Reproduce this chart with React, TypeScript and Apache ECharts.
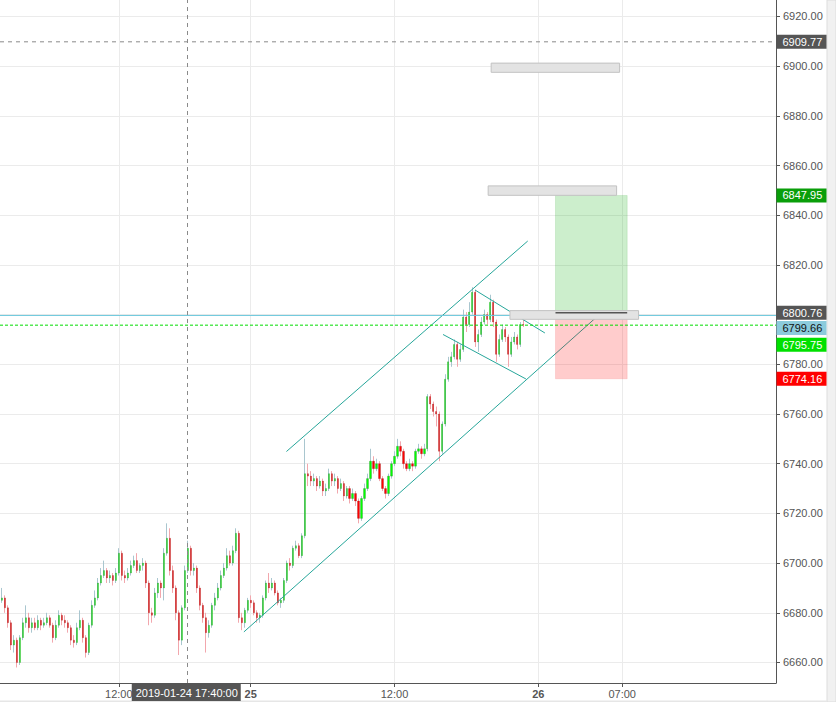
import React, { useEffect, useRef } from "react";
import * as echarts from "echarts";

// ---------- data ----------
const START_TIME = "2019-01-24 02:00"; // first 15-minute bar
const SESSION_GAP = ["2019-01-24 22:00", "2019-01-24 23:00"];
const SLOT_MINUTES = 15;
const VIEW = ["2019-01-24 02:05", "2019-01-26 19:50"];

// [open, close, low, high] per 15-minute bar
const candleOHLC: number[][] = [
  [6684, 6685, 6683, 6689], [6685, 6686, 6684, 6690], [6686, 6682, 6680, 6687], [6682, 6676, 6674, 6683],
  [6676, 6667, 6665, 6677], [6667, 6669, 6664, 6671], [6669, 6660, 6658, 6670], [6660, 6670, 6659, 6671],
  [6670, 6676, 6669, 6678], [6676, 6678, 6674, 6683], [6678, 6674, 6672, 6680], [6674, 6676, 6672, 6678],
  [6676, 6674, 6673, 6678], [6674, 6677, 6673, 6679], [6677, 6675, 6673, 6678], [6675, 6676, 6674, 6678],
  [6676, 6678, 6675, 6680], [6678, 6675, 6674, 6679], [6675, 6670, 6668, 6676], [6670, 6675, 6669, 6677],
  [6675, 6679, 6674, 6681], [6679, 6677, 6675, 6680], [6677, 6676, 6674, 6679], [6676, 6674, 6672, 6677],
  [6674, 6669, 6667, 6675], [6669, 6668, 6666, 6671], [6668, 6674, 6667, 6676], [6674, 6677, 6673, 6681],
  [6677, 6670, 6668, 6678], [6670, 6664, 6662, 6671], [6664, 6675, 6663, 6676], [6675, 6683, 6674, 6685],
  [6683, 6686, 6682, 6689], [6686, 6692, 6685, 6694], [6692, 6695, 6691, 6698], [6695, 6697, 6694, 6701],
  [6697, 6694, 6692, 6698], [6694, 6695, 6692, 6697], [6695, 6693, 6691, 6696], [6693, 6696, 6692, 6698],
  [6696, 6704, 6695, 6706], [6704, 6695, 6693, 6705], [6695, 6694, 6692, 6697], [6694, 6696, 6693, 6698],
  [6696, 6699, 6695, 6701], [6699, 6701, 6698, 6703], [6701, 6697, 6696, 6704], [6697, 6699, 6696, 6700],
  [6699, 6700, 6697, 6702], [6700, 6692, 6690, 6701], [6692, 6680, 6675, 6693], [6680, 6679, 6676, 6682],
  [6679, 6688, 6678, 6690], [6688, 6692, 6686, 6694], [6692, 6690, 6686, 6693], [6690, 6704, 6685, 6706],
  [6704, 6710, 6703, 6716], [6710, 6697, 6695, 6714], [6697, 6690, 6688, 6699], [6690, 6680, 6677, 6691],
  [6680, 6669, 6663, 6681], [6669, 6682, 6667, 6683], [6682, 6697, 6681, 6699], [6697, 6706, 6696, 6709],
  [6706, 6697, 6695, 6707], [6697, 6698, 6695, 6700], [6698, 6690, 6688, 6699], [6690, 6683, 6681, 6691],
  [6683, 6678, 6676, 6684], [6678, 6672, 6664, 6680], [6672, 6675, 6670, 6677], [6675, 6683, 6674, 6684],
  [6683, 6686, 6681, 6688], [6686, 6690, 6685, 6692], [6690, 6695, 6689, 6697], [6695, 6698, 6694, 6700],
  [6698, 6703, 6697, 6706], [6703, 6700, 6699, 6705], [6700, 6705, 6699, 6707], [6705, 6712, 6704, 6714],
  [6712, 6678, 6676, 6713], [6678, 6676, 6673, 6680], [6676, 6681, 6674, 6682], [6681, 6685, 6680, 6686],
  [6685, 6684, 6682, 6687], [6684, 6680, 6679, 6685], [6680, 6678, 6676, 6681], [6678, 6679, 6676, 6680],
  [6679, 6686, 6678, 6687], [6686, 6692, 6685, 6693], [6692, 6690, 6688, 6696], [6690, 6692, 6689, 6694],
  [6692, 6688, 6687, 6693], [6688, 6684, 6683, 6689], [6684, 6685, 6682, 6686], [6685, 6693, 6684, 6694],
  [6693, 6700, 6692, 6701], [6700, 6699, 6697, 6702], [6699, 6706, 6698, 6707], [6706, 6707, 6705, 6709],
  [6707, 6703, 6702, 6708], [6703, 6711, 6702, 6712], [6711, 6736, 6710, 6750], [6736, 6735, 6731, 6740],
  [6735, 6733, 6731, 6737], [6733, 6734, 6731, 6736], [6734, 6731, 6729, 6735], [6731, 6733, 6730, 6735],
  [6733, 6729, 6727, 6734], [6729, 6730, 6727, 6732], [6730, 6736, 6729, 6738], [6736, 6733, 6731, 6737],
  [6733, 6734, 6731, 6736], [6734, 6730, 6728, 6735], [6730, 6732, 6729, 6734], [6732, 6727, 6725, 6733],
  [6727, 6730, 6726, 6731], [6730, 6726, 6724, 6731], [6726, 6728, 6725, 6730], [6728, 6725, 6723, 6729],
  [6725, 6718, 6716, 6726], [6718, 6726, 6717, 6727], [6726, 6730, 6725, 6732], [6730, 6734, 6729, 6736],
  [6734, 6741, 6733, 6746], [6741, 6738, 6736, 6743], [6738, 6740, 6737, 6742], [6740, 6734, 6733, 6741],
  [6734, 6730, 6729, 6735], [6730, 6728, 6726, 6731], [6728, 6735, 6727, 6736], [6735, 6740, 6734, 6741],
  [6740, 6743, 6739, 6745], [6743, 6747, 6742, 6750], [6747, 6745, 6743, 6749], [6745, 6740, 6738, 6746],
  [6740, 6738, 6737, 6741], [6738, 6740, 6737, 6742], [6740, 6739, 6737, 6741], [6739, 6745, 6738, 6746],
  [6745, 6746, 6744, 6748], [6746, 6744, 6742, 6747], [6744, 6746, 6743, 6748], [6746, 6767, 6745, 6768],
  [6767, 6764, 6762, 6768], [6764, 6761, 6759, 6765], [6761, 6760, 6755, 6763], [6760, 6745, 6741, 6761],
  [6745, 6756, 6744, 6757], [6756, 6774, 6755, 6776], [6774, 6781, 6773, 6783], [6781, 6783, 6779, 6785],
  [6783, 6788, 6782, 6790], [6788, 6782, 6779, 6789], [6782, 6786, 6781, 6788], [6786, 6799, 6785, 6802],
  [6799, 6796, 6793, 6801], [6796, 6801, 6795, 6805], [6801, 6809, 6800, 6811], [6809, 6789, 6787, 6810],
  [6789, 6792, 6785, 6794], [6792, 6797, 6791, 6799], [6797, 6800, 6796, 6802], [6800, 6798, 6796, 6801],
  [6798, 6805, 6797, 6808], [6805, 6797, 6795, 6806], [6797, 6784, 6781, 6798], [6784, 6790, 6783, 6792],
  [6790, 6794, 6789, 6796], [6794, 6791, 6789, 6795], [6791, 6784, 6779, 6792], [6784, 6789, 6783, 6791],
  [6789, 6791, 6788, 6793], [6791, 6788, 6786, 6792], [6788, 6796, 6787, 6797], [6796, 6795.75, 6795, 6798],
];

const PRICE_MIN = 6651.75;
const PRICE_MAX = 6926.6;
const priceTicks = [6660, 6680, 6700, 6720, 6740, 6760, 6780, 6800, 6820, 6840, 6860, 6880, 6900, 6920];
// 6800.00 is covered by the price tags in the reference
const priceTickLabels = [6660, 6680, 6700, 6720, 6740, 6760, 6780, 6820, 6840, 6860, 6880, 6900, 6920];

const timeTicks = [
  { time: "2019-01-24 12:00", text: "12:00", bold: false },
  { time: "2019-01-25 00:00", text: "25", bold: true },
  { time: "2019-01-25 12:00", text: "12:00", bold: false },
  { time: "2019-01-26 00:00", text: "26", bold: true },
  { time: "2019-01-26 07:00", text: "07:00", bold: false },
];

const CROSSHAIR_TIME = "2019-01-24 17:40";
const ALERT_PRICE = 6909.77;
const BID_PRICE = 6799.66;
const LAST_PRICE = 6795.75;

const ENTRY_PRICE = 6800.76;
const TARGET_PRICE = 6847.95;
const STOP_PRICE = 6774.16;
const positionSpan = ["2019-01-26 01:26", "2019-01-26 07:25"];

const trendLines: [string, number, string, number][] = [
  ["2019-01-25 02:59", 6744.9, "2019-01-25 23:07", 6829.6],
  ["2019-01-24 23:26", 6672.3, "2019-01-26 05:04", 6799.9],
  ["2019-01-25 18:43", 6809.9, "2019-01-26 00:33", 6792.6],
  ["2019-01-25 16:03", 6792.0, "2019-01-25 22:58", 6774.1],
];

const grayBoxes: [string, number, string, number][] = [
  ["2019-01-25 20:04", 6901.2, "2019-01-26 06:47", 6897.5],
  ["2019-01-25 19:49", 6851.8, "2019-01-26 06:32", 6848.0],
  ["2019-01-25 21:38", 6801.6, "2019-01-26 08:22", 6798.1],
];

// ---------- helpers ----------
const FONT = '"Liberation Sans", Arial, sans-serif';

function toMs(t: string): number {
  const [d, hm] = t.split(" ");
  const [Y, M, D] = d.split("-").map(Number);
  const [h, m] = hm.split(":").map(Number);
  return Date.UTC(Y, M - 1, D, h, m);
}

function slotOf(t: string): number {
  const s = toMs(START_TIME);
  const g0 = toMs(SESSION_GAP[0]);
  const g1 = toMs(SESSION_GAP[1]);
  const v = toMs(t);
  let minutes = (v - s) / 60000;
  if (v >= g1) minutes -= (g1 - g0) / 60000;
  else if (v > g0) minutes -= (v - g0) / 60000;
  return minutes / SLOT_MINUTES;
}

export default function App() {
  const ref = useRef<HTMLDivElement>(null);

  useEffect(() => {
    if (!ref.current) return;
    const chart = echarts.init(ref.current, undefined, { renderer: "svg" });

    const xMin = slotOf(VIEW[0]);
    const xMax = slotOf(VIEW[1]);
    const tickSlots = timeTicks.map((t) => slotOf(t.time));

    const wickData = candleOHLC.map((c, i) => [i, c[0], c[1], c[2], c[3]]);
    const bodyData = candleOHLC.map((c, i) => [i, c[0], c[1], Math.min(c[0], c[1]), Math.max(c[0], c[1])]);

    const p0 = slotOf(positionSpan[0]);
    const p1 = slotOf(positionSpan[1]);
    // kind: 0 target, 1 stop, 2 gray box, 3 entry line, 4 bid line
    const boxData: number[][] = [
      [xMin, BID_PRICE, xMax, BID_PRICE, 4],
      [p0, TARGET_PRICE, p1, ENTRY_PRICE, 0],
      [p0, ENTRY_PRICE, p1, STOP_PRICE, 1],
      ...grayBoxes.map((b) => [slotOf(b[0]), b[1], slotOf(b[2]), b[3], 2]),
      [p0, ENTRY_PRICE, p1, ENTRY_PRICE, 3],
    ];
    const boxStyles: any[] = [
      { fill: "rgba(0,170,0,0.2)", stroke: "rgba(0,150,0,0.12)", lineWidth: 1 },
      { fill: "rgba(255,0,0,0.2)", stroke: "rgba(230,0,0,0.1)", lineWidth: 1 },
      { fill: "#e3e3e3", stroke: "#c2c2c2", lineWidth: 1 },
      { stroke: "#555555", lineWidth: 1.5, line: true },
      { stroke: "#6cc8dc", lineWidth: 1, line: true },
    ];

    const priceLine = (name: string, price: number, color: string, type: any, z: number) => ({
      name,
      type: "line",
      data: [
        [xMin, price],
        [xMax, price],
      ],
      symbol: "none",
      silent: true,
      z,
      lineStyle: { color, type, width: 1 },
      itemStyle: { color },
    });

    const option: any = {
      animation: false,
      backgroundColor: "#ffffff",
      textStyle: { fontFamily: FONT },
      grid: { left: 0, top: 0, right: 60, bottom: 19, containLabel: false },
      xAxis: {
        type: "value",
        min: xMin,
        max: xMax,
        axisLine: { show: true, onZero: false, lineStyle: { color: "#555555", width: 1 } },
        axisTick: { show: true, customValues: tickSlots, length: 4, lineStyle: { color: "#555555" } },
        axisLabel: {
          customValues: tickSlots,
          margin: 5,
          fontSize: 11,
          color: "#555555",
          fontFamily: FONT,
          formatter: (v: number) => {
            const idx = tickSlots.findIndex((s) => Math.abs(s - v) < 1e-6);
            if (idx < 0) return "";
            const t = timeTicks[idx];
            return t.bold ? "{b|" + t.text + "}" : t.text;
          },
          rich: { b: { fontWeight: "bold", fontSize: 11, color: "#555555", fontFamily: FONT } },
        },
        splitLine: { show: true, lineStyle: { color: "#ebebeb", width: 1 } },
      },
      yAxis: {
        type: "value",
        position: "right",
        min: PRICE_MIN,
        max: PRICE_MAX,
        axisLine: { show: true, onZero: false, lineStyle: { color: "#555555", width: 1 } },
        axisTick: { show: true, customValues: priceTicks, length: 4, lineStyle: { color: "#555555" } },
        axisLabel: {
          customValues: priceTickLabels,
          margin: 7,
          fontSize: 11,
          color: "#555555",
          fontFamily: FONT,
          formatter: (v: number) => v.toFixed(2),
        },
        splitLine: { show: true, lineStyle: { color: "#ebebeb", width: 1 } },
      },
      series: [
        {
          name: "wicks",
          type: "candlestick",
          data: wickData,
          encode: { x: 0, y: [1, 2, 3, 4] },
          barWidth: 1,
          z: 2,
          itemStyle: {
            color: "#a9c6cf",
            color0: "#f2a7ad",
            borderColor: "#a9c6cf",
            borderColor0: "#f2a7ad",
            borderWidth: 1,
          },
          silent: true,
        },
        {
          name: "bodies",
          type: "candlestick",
          data: bodyData,
          encode: { x: 0, y: [1, 2, 3, 4] },
          barWidth: 1.6,
          z: 3,
          itemStyle: {
            color: "#00ff00",
            color0: "#ff0000",
            borderColor: "#1f5f1f",
            borderColor0: "#6a1010",
            borderWidth: 0.25,
          },
          silent: true,
          markLine: {
            silent: true,
            symbol: ["none", "none"],
            z: 5,
            label: { show: false },
            lineStyle: { color: "#26a69a", type: "solid", width: 1 },
            data: [
              [
                { coord: [slotOf(CROSSHAIR_TIME), PRICE_MIN], lineStyle: { color: "#8a8a8a", type: [4, 4], width: 1 } },
                { coord: [slotOf(CROSSHAIR_TIME), PRICE_MAX] },
              ],
              ...trendLines.map((l) => [
                { coord: [slotOf(l[0]), l[1]], lineStyle: { color: "#26a69a", type: "solid", width: 1 } },
                { coord: [slotOf(l[2]), l[3]] },
              ]),
            ],
          },
        },
        priceLine("alert", ALERT_PRICE, "#8a8a8a", [4, 4], 4),
        {
          name: "drawings",
          type: "custom",
          z: 10,
          clip: false,
          silent: true,
          data: boxData,
          encode: { x: [0, 2], y: [1, 3] },
          renderItem: (params: any, api: any) => {
            const kind = api.value(4);
            const a = api.coord([api.value(0), api.value(1)]);
            const b = api.coord([api.value(2), api.value(3)]);
            const st = boxStyles[kind];
            if (st.line) {
              return {
                type: "line",
                shape: { x1: a[0], y1: a[1], x2: b[0], y2: b[1] },
                style: { stroke: st.stroke, lineWidth: st.lineWidth },
              };
            }
            return {
              type: "rect",
              shape: {
                x: Math.min(a[0], b[0]),
                y: Math.min(a[1], b[1]),
                width: Math.abs(b[0] - a[0]),
                height: Math.abs(b[1] - a[1]),
              },
              style: { fill: st.fill, stroke: st.stroke, lineWidth: st.lineWidth },
            };
          },
        },
        priceLine("last", LAST_PRICE, "#00dd00", [3, 2], 11),
      ],
    };

    chart.setOption(option);

    const yPx = (v: number) => chart.convertToPixel({ yAxisIndex: 0 }, v) as number;
    const xPx = (v: number) => chart.convertToPixel({ xAxisIndex: 0 }, v) as number;
    const axisX = xPx(xMax);
    const axisY = yPx(PRICE_MIN);

    const priceTags = [
      { value: ALERT_PRICE, bg: "#555555", fg: "#ffffff", shift: 0 },
      { value: TARGET_PRICE, bg: "#0a9e0a", fg: "#ffffff", shift: 0 },
      { value: ENTRY_PRICE, bg: "#555555", fg: "#ffffff", shift: 0 },
      { value: BID_PRICE, bg: "#8ccbdc", fg: "#111111", shift: 12.5 },
      { value: LAST_PRICE, bg: "#00e000", fg: "#ffffff", shift: 19.5 },
      { value: STOP_PRICE, bg: "#ff0000", fg: "#ffffff", shift: 0 },
    ];

    const graphics: any[] = [];
    priceTags.forEach((tag) => {
      const cy = yPx(tag.value) + tag.shift;
      graphics.push({
        type: "rect",
        z: 100,
        silent: true,
        shape: { x: axisX + 0.5, y: cy - 7, width: 50, height: 14 },
        style: { fill: tag.bg },
      });
      graphics.push({
        type: "text",
        z: 101,
        silent: true,
        x: axisX + 6.5,
        y: cy,
        style: {
          text: tag.value.toFixed(2),
          fill: tag.fg,
          font: "11px " + FONT,
          verticalAlign: "middle",
          align: "left",
        },
      });
    });

    const cx = xPx(slotOf(CROSSHAIR_TIME));
    graphics.push({
      type: "rect",
      z: 100,
      silent: true,
      shape: { x: cx - 55, y: axisY, width: 109, height: 18 },
      style: { fill: "#555555" },
    });
    graphics.push({
      type: "text",
      z: 101,
      silent: true,
      x: cx,
      y: axisY + 9.5,
      style: {
        text: CROSSHAIR_TIME + ":00",
        fill: "#ffffff",
        font: "11px " + FONT,
        align: "center",
        verticalAlign: "middle",
      },
    });
    // outer frame (right strip and bottom edge)
    graphics.push({
      type: "rect",
      z: 90,
      silent: true,
      shape: { x: 827, y: 0, width: 9, height: 702 },
      style: { fill: "#f1f1f1", stroke: "#dddddd", lineWidth: 1 },
    });
    graphics.push({
      type: "rect",
      z: 90,
      silent: true,
      shape: { x: 0, y: 700.5, width: 827, height: 1.5 },
      style: { fill: "#e6e6e6" },
    });

    chart.setOption({ graphic: graphics });

    return () => chart.dispose();
  }, []);

  return (
    <div
      ref={ref}
      style={{ position: "absolute", left: 0, top: 0, width: 836, height: 702 }}
    />
  );
}
